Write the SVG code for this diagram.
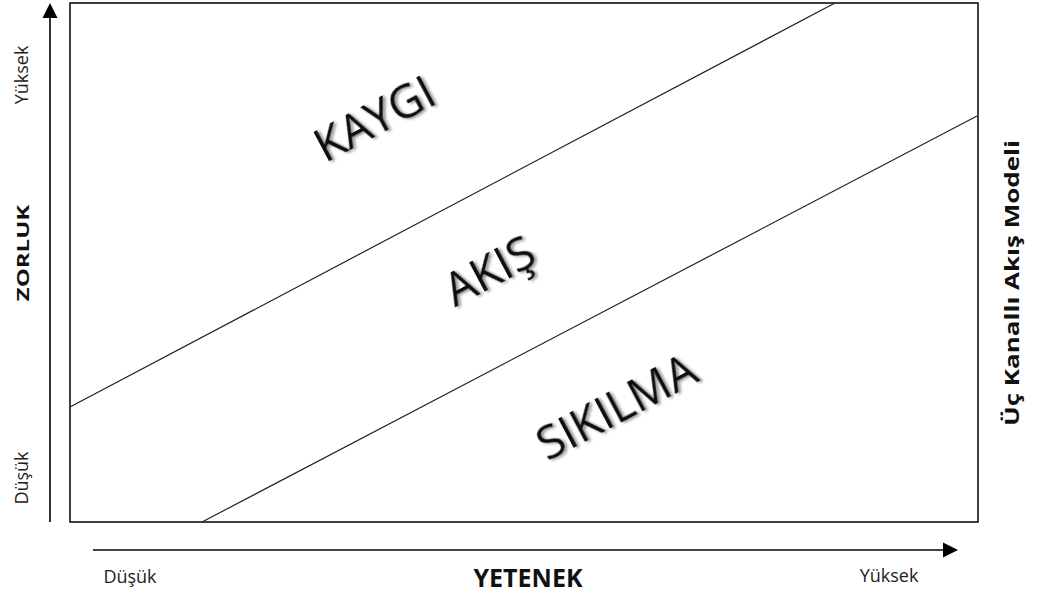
<svg xmlns="http://www.w3.org/2000/svg" width="1038" height="594" viewBox="0 0 1038 594">
  <style>
    .frame { fill: #ffffff; stroke: #000000; stroke-width: 1.5; }
    .chan { stroke: #222222; stroke-width: 1.2; fill: none; }
    .axis { stroke: #000000; stroke-width: 1.6; fill: none; }
    .axisx { stroke: #444444; stroke-width: 2; fill: none; }
    .small { font-family: "Open Sans", "Liberation Sans", sans-serif; font-size: 18px; fill: #222222; }
    .title { font-family: "Open Sans", "Liberation Sans", sans-serif; font-weight: bold; fill: #111111; }
    .zone { font-family: "Open Sans", "Liberation Sans", sans-serif; font-size: 46px; fill: #111111; filter: url(#shadow); }
  </style>
  <defs>
    <filter id="shadow" x="-20%" y="-20%" width="140%" height="140%">
      <feGaussianBlur in="SourceAlpha" stdDeviation="1.5"/>
      <feOffset dx="2" dy="2" result="b"/>
      <feComponentTransfer><feFuncA type="linear" slope="0.45"/></feComponentTransfer>
      <feMerge><feMergeNode/><feMergeNode in="SourceGraphic"/></feMerge>
    </filter>
  </defs>

  <rect width="1038" height="594" fill="#ffffff"/>

  <!-- plot area -->
  <g id="plot">
    <rect class="frame" x="70" y="3" width="908" height="519"/>
  </g>

  <!-- channel boundaries and axes -->
  <g id="connectors">
    <line class="chan" x1="70" y1="407" x2="835" y2="3"/>
    <line class="chan" x1="202" y1="522" x2="977" y2="116"/>
    <line class="axis" x1="50" y1="522" x2="50" y2="17"/>
    <polygon points="50,3 42.5,18 57.5,18" fill="#000000"/>
    <line class="axisx" x1="93" y1="550" x2="944" y2="550"/>
    <polygon points="958,550 943,542.5 943,557.5" fill="#000000"/>
  </g>

  <!-- channel labels -->
  <g id="kaygi">
    <text class="zone" transform="translate(382,133) rotate(-28)" text-anchor="middle">KAYGI</text>
  </g>
  <g id="akis">
    <text class="zone" transform="translate(497,285) rotate(-28)" text-anchor="middle">AKIŞ</text>
  </g>
  <g id="sikilma">
    <text class="zone" transform="translate(624,421) rotate(-28)" text-anchor="middle">SIKILMA</text>
  </g>

  <!-- axis labels -->
  <g id="y-labels">
    <text class="small" transform="translate(28,75) rotate(-90)" text-anchor="middle">Yüksek</text>
    <text class="small" transform="translate(28,478) rotate(-90)" text-anchor="middle">Düşük</text>
    <text class="title" font-size="16" transform="translate(29,253) rotate(-90) scale(1.5,1)" text-anchor="middle">ZORLUK</text>
  </g>
  <g id="x-labels">
    <text class="small" x="130" y="583" text-anchor="middle">Düşük</text>
    <text class="title" font-size="25" x="528" y="587" text-anchor="middle">YETENEK</text>
    <text class="small" x="889" y="582" text-anchor="middle">Yüksek</text>
  </g>
  <g id="caption">
    <text class="title" font-size="20" transform="translate(1019,283) rotate(-90) scale(1.3,1)" text-anchor="middle">Üç Kanallı Akış Modeli</text>
  </g>
</svg>
